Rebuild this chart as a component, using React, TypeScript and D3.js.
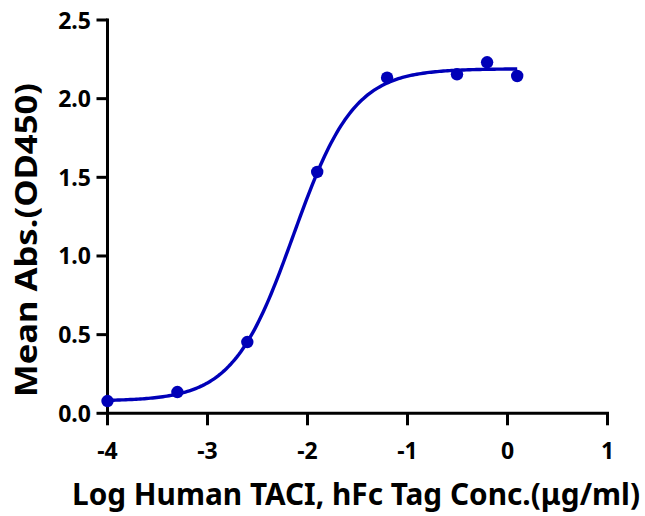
import React from "react";
import * as d3 from "d3";

const logConc = [-4, -3.301, -2.602, -1.903, -1.204, -0.505, -0.204, 0.097];
const meanAbs = [0.078, 0.135, 0.453, 1.534, 2.133, 2.155, 2.231, 2.144];
const xTicks = [-4, -3, -2, -1, 0, 1];
const yTicks = [0, 0.5, 1.0, 1.5, 2.0, 2.5];
// 4PL fit parameters (bottom, top, logEC50, hill)
const fitBottom = 0.078;
const fitTop = 2.19;
const fitLogEC50 = -2.14;
const fitHill = 1.44;

const W = 645;
const H = 516;
const BLUE = "#0000B8";
const FONT = "'Noto Sans', sans-serif";

export default function App() {
  const x = d3.scaleLinear().domain([-4, 1]).range([107.5, 607.5]);
  const y = d3.scaleLinear().domain([0, 2.5]).range([413.3, 20]);
  const fit = (lx: number) =>
    fitBottom + (fitTop - fitBottom) / (1 + Math.pow(10, (fitLogEC50 - lx) * fitHill));
  const xs = d3.range(0, 201).map((i) => -4 + (i / 200) * (logConc[logConc.length - 1] + 4));
  const line = d3
    .line<number>()
    .x((d) => x(d))
    .y((d) => y(fit(d)))
    .curve(d3.curveLinear);

  const x0 = x(-4);
  const y0 = y(0);
  return (
    <svg width={W} height={H} style={{ position: "absolute", left: 0, top: 0, background: "#fff" }}>
      {/* axes */}
      <line x1={x0} x2={x(1) + 1.5} y1={y0} y2={y0} stroke="#000" strokeWidth={3} />
      <line x1={x0} x2={x0} y1={y0 + 1.5} y2={y(2.5) - 1.5} stroke="#000" strokeWidth={3} />
      {xTicks.map((t) => (
        <g key={"x" + t}>
          <line x1={x(t)} x2={x(t)} y1={y0} y2={y0 + 12} stroke="#000" strokeWidth={3} />
          <text
            x={x(t)}
            y={459}
            textAnchor="middle"
            fontFamily={FONT}
            fontWeight="bold"
            fontSize={23}
            fill="#000"
          >
            {t}
          </text>
        </g>
      ))}
      {yTicks.map((t) => (
        <g key={"y" + t}>
          <line x1={x0 - 11} x2={x0} y1={y(t)} y2={y(t)} stroke="#000" strokeWidth={3} />
          <text
            x={91}
            y={y(t) + 8.5}
            textAnchor="end"
            fontFamily={FONT}
            fontWeight="bold"
            fontSize={23}
            fill="#000"
          >
            {t.toFixed(1)}
          </text>
        </g>
      ))}
      {/* fit curve */}
      <path d={line(xs) || ""} fill="none" stroke={BLUE} strokeWidth={3.4} />
      {logConc.map((c, i) => (
        <circle key={"p" + i} cx={x(c)} cy={y(meanAbs[i])} r={6.2} fill={BLUE} />
      ))}
      {/* titles */}
      <text
        x={356}
        y={505}
        textAnchor="middle"
        fontFamily={FONT}
        fontWeight="bold"
        fontSize={30}
        textLength={568}
        lengthAdjust="spacingAndGlyphs"
        fill="#000"
      >
        Log Human TACI, hFc Tag Conc.(μg/ml)
      </text>
      <text
        transform="translate(37,240) rotate(-90)"
        textAnchor="middle"
        fontFamily={FONT}
        fontWeight="bold"
        fontSize={30}
        textLength={314}
        lengthAdjust="spacingAndGlyphs"
        fill="#000"
      >
        Mean Abs.(OD450)
      </text>
    </svg>
  );
}
